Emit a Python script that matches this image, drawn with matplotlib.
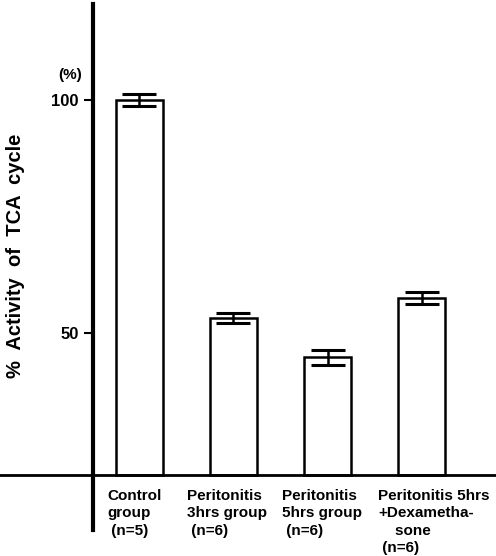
import numpy as np
import matplotlib
matplotlib.use("Agg")
import matplotlib.pyplot as plt

plt.rcParams['font.family'] = ['Liberation Sans', 'DejaVu Sans']

# values (% activity of TCA cycle)
groups = ["Control\ngroup\n (n=5)",
          "Peritonitis\n3hrs group\n (n=6)",
          "Peritonitis\n5hrs group\n (n=6)",
          "Peritonitis 5hrs\n+Dexametha-\n    sone\n (n=6)"]
label_shift = [-0.34, -0.49, -0.48, -0.46]
activity = [100.0, 53.2, 44.8, 57.5]
err = [1.2, 1.1, 1.6, 1.2]
yticks = [50, 100]

base = 19.5      # where the x axis crosses
yaxis_x = -0.49  # where the y axis stands

fig = plt.figure(figsize=(4.96, 5.56), dpi=100)
ax = fig.add_axes([0, 0.0468, 1, 0.946])

x = np.arange(len(activity))
heights = [v - base for v in activity]
ax.bar(x, heights, bottom=base, width=0.5, color="white",
       edgecolor="black", linewidth=1.8, zorder=2)
ax.errorbar(x, activity, yerr=err, fmt="none", ecolor="black",
            elinewidth=1.8, capsize=12, capthick=2.2, zorder=3)

ax.set_xlim(-1.48, 3.79)
ax.set_ylim(7.7, 120.6)

for s in ["top", "right"]:
    ax.spines[s].set_visible(False)
ax.spines["left"].set_position(("data", yaxis_x))
ax.spines["left"].set_linewidth(3)
ax.spines["bottom"].set_position(("data", base))
ax.spines["bottom"].set_linewidth(2)

ax.set_xticks([])
ax.set_yticks(yticks)
ax.set_yticklabels([str(t) for t in yticks], fontsize=12, fontweight="bold")
ax.tick_params(axis="y", length=6.5, width=1.5, pad=4)

for xi, lab, dx in zip(x, groups, label_shift):
    ax.text(xi + dx, 16.5, lab, ha="left", va="top", fontsize=11,
            fontweight="bold", linespacing=1.3)

ax.text(-0.734, 105.4, "(%)", ha="center", va="center", fontsize=11,
        fontweight="bold")
ax.text(-1.32, 66.5, "%  Activity  of  TCA  cycle", rotation=90, ha="center",
        va="center", fontsize=14.5, fontweight="bold")

fig.savefig("out.png", dpi=100)
